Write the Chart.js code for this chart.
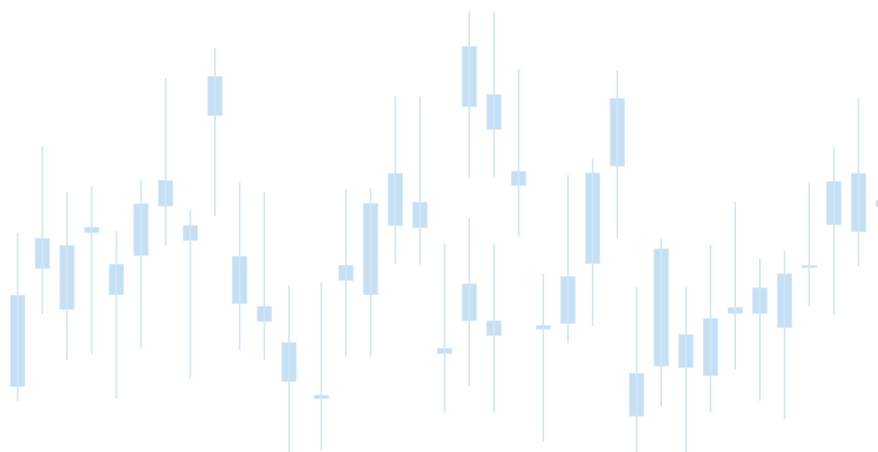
<!DOCTYPE html>
<html>
<head>
<meta charset="utf-8">
<script src="https://cdn.jsdelivr.net/npm/chart.js@4/dist/chart.umd.min.js"></script>
<style>
    html, body { margin: 0; padding: 0; background: #ffffff; }
    #wrap { width: 878px; height: 452px; position: relative; }
</style>
</head>
<body>
<div id="wrap"><canvas id="candles"></canvas></div>
<script>
// Trading day position of each candle (two sessions share day 18.31 and 19.31).
const days = [
    0, 1, 2, 3, 4, 5, 6, 7, 8, 9, 10, 11,
    12.31, 13.31, 14.31, 15.31, 16.31, 17.31, 18.31, 18.31, 19.31, 19.31,
    20.31, 21.31, 22.31, 23.31, 24.31,
    25.09, 26.09, 27.09, 28.09, 29.09, 30.09, 31.09, 32.09, 33.09, 34.09, 35.09
];
const openPrices = [
    106.53, 118.33, 114.23, 121.90, 115.70, 119.63, 124.57, 121.13, 133.63, 114.83, 113.03, 107.00,
    105.30, 117.13, 115.70, 122.63, 122.40, 109.80, 134.50, 113.10, 132.23, 111.63,
    126.60, 112.27, 112.80, 118.83, 128.57,
    103.57, 108.57, 108.43, 107.60, 113.83, 113.83, 112.43, 118.43, 122.70, 122.00, 124.53
];
const closePrices = [
    115.70, 121.40, 120.67, 122.50, 118.80, 124.83, 127.17, 122.67, 137.60, 119.60, 114.60, 110.97,
    105.70, 118.70, 124.87, 127.87, 125.00, 110.40, 140.57, 116.83, 135.77, 113.13,
    128.10, 112.67, 117.57, 127.93, 135.40,
    107.90, 120.33, 111.77, 113.40, 114.47, 116.43, 117.83, 118.70, 127.07, 127.90, 125.20
];
const highPrices = [
    121.87, 130.60, 125.93, 126.50, 122.10, 127.17, 137.33, 124.13, 140.37, 126.93, 126.00, 116.60,
    116.90, 126.30, 126.37, 135.60, 135.50, 120.77, 144.03, 123.37, 144.00, 120.73,
    138.30, 117.80, 127.70, 129.33, 138.17,
    116.47, 121.27, 116.47, 120.70, 125.00, 119.33, 120.07, 126.90, 130.47, 135.33, 126.60
];
const lowPrices = [
    105.13, 113.87, 109.20, 109.80, 105.37, 110.43, 120.60, 107.40, 123.63, 110.20, 109.27, 99.90,
    100.20, 109.57, 109.60, 118.83, 118.77, 104.00, 127.50, 106.60, 127.50, 104.00,
    121.57, 101.07, 110.93, 112.63, 121.43,
    99.77, 104.53, 99.77, 104.00, 108.27, 105.13, 103.33, 114.60, 113.73, 118.60, 119.00
];

// Visible window of the chart.
const dayRange = { min: -0.716, max: 34.878 };
const priceRange = { min: 100, max: 145.2 };

document.addEventListener('DOMContentLoaded', function() {
    // Wicks are thin floating bars from low to high, bodies span open..close.
    const wicks = days.map((d, i) => ({ x: d, y: [lowPrices[i], highPrices[i]] }));
    const bodies = days.map((d, i) => ({ x: d, y: [openPrices[i], closePrices[i]] }));

    new Chart(document.getElementById('candles'), {
        type: 'bar',
        data: {
            datasets: [{
                label: 'High / Low',
                data: wicks,
                backgroundColor: '#d3e6f5',
                borderWidth: 0,
                barThickness: 1,
                grouped: false
            }, {
                label: 'Open / Close',
                data: bodies,
                backgroundColor: '#c5e0f4',
                borderColor: '#dcebf7',
                borderWidth: 1,
                borderSkipped: false,
                barThickness: 15,
                grouped: false
            }]
        },
        options: {
            responsive: true,
            maintainAspectRatio: false,
            animation: false,
            layout: { padding: 0 },
            plugins: {
                legend: { display: false },
                tooltip: { enabled: false }
            },
            scales: {
                x: {
                    type: 'linear',
                    display: false,
                    offset: false,
                    min: dayRange.min,
                    max: dayRange.max
                },
                y: {
                    display: false,
                    min: priceRange.min,
                    max: priceRange.max
                }
            }
        }
    });
});
</script>
</body>
</html>
